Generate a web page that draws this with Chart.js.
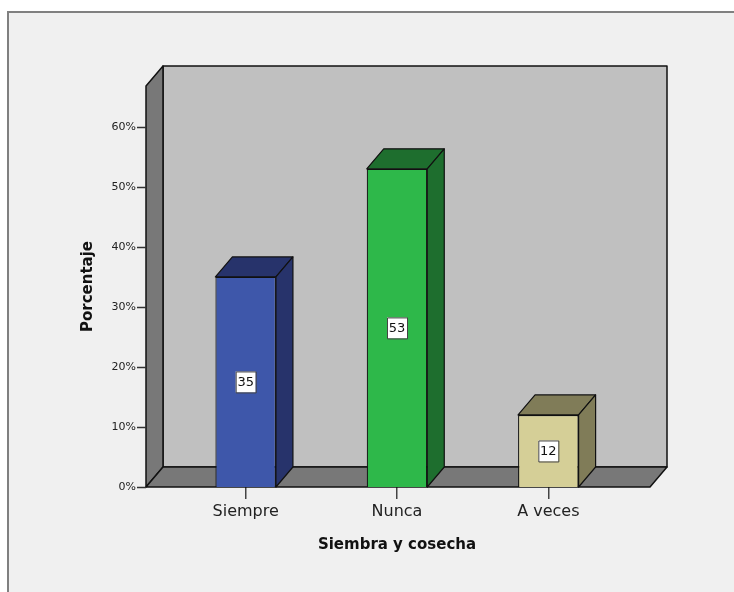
<!DOCTYPE html>
<html>
<head>
<meta charset="utf-8">
<script src="https://cdn.jsdelivr.net/npm/chart.js@4/dist/chart.umd.min.js"></script>
<style>
  body { margin: 0; background: #fff; width: 734px; height: 592px; overflow: hidden; position: relative; }
  #marco { position: absolute; left: 7px; top: 11px; width: 800px; height: 700px; background: #f0f0f0;
           border-left: 2px solid #808080; border-top: 2px solid #808080; }
  #caja { position: absolute; left: 0; top: 0; width: 734px; height: 592px; }
</style>
</head>
<body>
<div id="marco"></div>
<div id="caja"><canvas id="myChart" width="734" height="592"></canvas></div>
<script>
const categorias = ['Siempre', 'Nunca', 'A veces'];
const porcentajes = [35, 53, 12];
const etiquetas = ['35', '53', '12'];
const ticksY = [0, 10, 20, 30, 40, 50, 60];
const colorFrente = ['rgb(62, 87, 170)', 'rgb(46, 184, 74)', 'rgb(213, 207, 151)'];
const colorSombra = ['rgb(39, 51, 107)', 'rgb(30, 110, 46)', 'rgb(128, 124, 88)'];

const ctx = document.getElementById('myChart');
const PROF_X = 17, PROF_Y = -20;

// paredes, piso y caras laterales de las barras
const caja3d = {
    id: 'caja3d',
    beforeDatasetsDraw(chart) {
        const c = chart.ctx, a = chart.chartArea, y = chart.scales.y;
        const L = a.left - 24, R = a.right + 26, T = a.top, B = y.getPixelForValue(0);
        c.save();
        c.lineWidth = 1.5;
        c.strokeStyle = '#111';
        c.lineJoin = 'round';
        // pared del fondo
        c.fillStyle = '#c0c0c0';
        c.fillRect(L + PROF_X, T + PROF_Y, R - L, B - T);
        c.strokeRect(L + PROF_X, T + PROF_Y, R - L, B - T);
        // pared izquierda
        c.fillStyle = '#787878';
        c.beginPath();
        c.moveTo(L, T); c.lineTo(L + PROF_X, T + PROF_Y);
        c.lineTo(L + PROF_X, B + PROF_Y); c.lineTo(L, B); c.closePath();
        c.fill(); c.stroke();
        // piso
        c.beginPath();
        c.moveTo(L, B); c.lineTo(L + PROF_X, B + PROF_Y);
        c.lineTo(R + PROF_X, B + PROF_Y); c.lineTo(R, B); c.closePath();
        c.fill(); c.stroke();
        // marcas del eje y
        c.strokeStyle = '#333';
        c.lineWidth = 1.5;
        y.ticks.forEach(t => {
            const py = Math.round(y.getPixelForValue(t.value)) + 0.5;
            c.beginPath(); c.moveTo(L - 9, py); c.lineTo(L, py); c.stroke();
        });
        c.restore();
    },
    afterDatasetsDraw(chart) {
        const c = chart.ctx;
        const barras = chart.getDatasetMeta(0).data;
        c.save();
        c.lineWidth = 1.2;
        c.strokeStyle = '#111';
        c.lineJoin = 'round';
        barras.forEach((b, i) => {
            const izq = b.x - b.width / 2, der = b.x + b.width / 2;
            c.fillStyle = colorSombra[i];
            c.beginPath();
            c.moveTo(izq, b.y); c.lineTo(izq + PROF_X, b.y + PROF_Y);
            c.lineTo(der + PROF_X, b.y + PROF_Y); c.lineTo(der, b.y); c.closePath();
            c.fill(); c.stroke();
            c.beginPath();
            c.moveTo(der, b.y); c.lineTo(der + PROF_X, b.y + PROF_Y);
            c.lineTo(der + PROF_X, b.base + PROF_Y); c.lineTo(der, b.base); c.closePath();
            c.fill(); c.stroke();
        });
        // etiquetas de valor
        c.font = '13px "DejaVu Sans"';
        c.textAlign = 'center';
        c.textBaseline = 'middle';
        barras.forEach((b, i) => {
            const cy = (b.y + b.base) / 2;
            c.fillStyle = '#fff';
            c.strokeStyle = '#444';
            c.lineWidth = 1;
            c.fillRect(b.x - 10, cy - 10.5, 20, 21);
            c.strokeRect(b.x - 10 + 0.5, cy - 10.5 + 0.5, 20, 21);
            c.fillStyle = '#111';
            c.fillText(etiquetas[i], b.x, cy + 1);
        });
        c.restore();
    }
};

new Chart(ctx, {
    type: 'bar',
    data: {
        labels: categorias,
        datasets: [{
            data: porcentajes,
            backgroundColor: colorFrente,
            borderColor: '#111',
            borderWidth: 1.2,
            barPercentage: 0.4,
            categoryPercentage: 1
        }]
    },
    options: {
        responsive: false,
        animation: false,
        layout: { padding: { left: 0, right: 110, top: 86, bottom: 0 } },
        plugins: { legend: { display: false }, tooltip: { enabled: false } },
        scales: {
            x: {
                offset: true,
                grid: { display: true, drawOnChartArea: false, drawTicks: true, tickLength: 12, offset: false, color: '#444', lineWidth: 1.5 },
                border: { display: false },
                ticks: { font: { family: 'DejaVu Sans', size: 16 }, color: '#222', padding: 3 },
                title: { display: true, text: 'Siembra y cosecha', color: '#111',
                         font: { family: 'DejaVu Sans', size: 15, weight: 'bold' }, padding: { top: 0, bottom: 38 } },
                afterFit(scale) { scale.height = 105; }
            },
            y: {
                min: 0,
                max: 66.8,
                grid: { display: false, drawTicks: false },
                border: { display: false },
                afterBuildTicks(scale) { scale.ticks = ticksY.map(v => ({ value: v })); },
                ticks: { font: { family: 'DejaVu Sans', size: 11 }, color: '#222', padding: 34,
                         callback: v => v + '%' },
                title: { display: true, text: 'Porcentaje', color: '#111',
                         font: { family: 'DejaVu Sans', size: 15, weight: 'bold' }, padding: { top: 79, bottom: 0 } },
                afterFit(scale) { scale.width = 170; }
            }
        }
    },
    plugins: [caja3d]
});
</script>
</body>
</html>
